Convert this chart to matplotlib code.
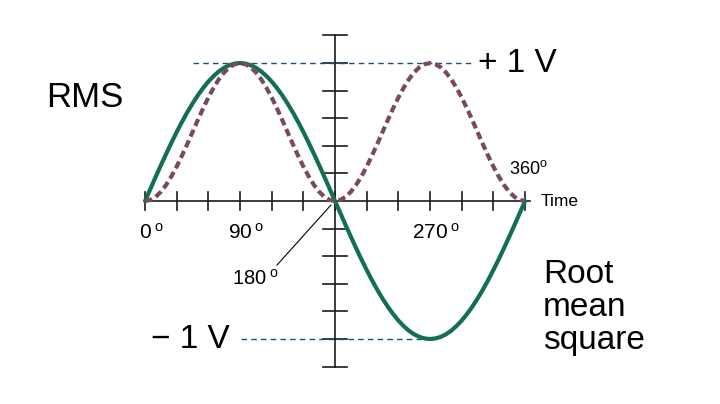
import matplotlib
matplotlib.use("Agg")
import matplotlib.pyplot as plt

# phase angle in degrees, read every 5 degrees
angle = list(range(0, 365, 5))
# green solid wave (volts)
voltage = [0, 0.087, 0.174, 0.259, 0.342, 0.423, 0.500, 0.574, 0.643, 0.707, 0.766, 0.819, 0.866, 0.906, 0.940, 0.966, 0.985, 0.996,
           1.0, 0.996, 0.985, 0.966, 0.940, 0.906, 0.866, 0.819, 0.766, 0.707, 0.643, 0.574, 0.500, 0.423, 0.342, 0.259, 0.174, 0.087,
           0, -0.087, -0.174, -0.259, -0.342, -0.423, -0.500, -0.574, -0.643, -0.707, -0.766, -0.819, -0.866, -0.906, -0.940, -0.966, -0.985, -0.996,
           -1.0, -0.996, -0.985, -0.966, -0.940, -0.906, -0.866, -0.819, -0.766, -0.707, -0.643, -0.574, -0.500, -0.423, -0.342, -0.259, -0.174, -0.087, 0]
# dashed squared wave
squared = [0, 0.008, 0.030, 0.067, 0.117, 0.179, 0.250, 0.329, 0.413, 0.500, 0.587, 0.671, 0.750, 0.821, 0.883, 0.933, 0.970, 0.992,
           1.0, 0.992, 0.970, 0.933, 0.883, 0.821, 0.750, 0.671, 0.587, 0.500, 0.413, 0.329, 0.250, 0.179, 0.117, 0.067, 0.030, 0.008,
           0, 0.008, 0.030, 0.067, 0.117, 0.179, 0.250, 0.329, 0.413, 0.500, 0.587, 0.671, 0.750, 0.821, 0.883, 0.933, 0.970, 0.992,
           1.0, 0.992, 0.970, 0.933, 0.883, 0.821, 0.750, 0.671, 0.587, 0.500, 0.413, 0.329, 0.250, 0.179, 0.117, 0.067, 0.030, 0.008, 0]

x_ticks = [0, 30, 60, 90, 120, 150, 180, 210, 240, 270, 300, 330, 360]
y_ticks = [-1.2, -1.0, -0.8, -0.6, -0.4, -0.2, 0.2, 0.4, 0.6, 0.8, 1.0, 1.2]
angle_labels = [(6, "0"), (96, "90"), (276, "270")]

GREEN = "#12704a"
MAUVE = "#7a4a5c"
BLUE = "#1f4e79"
plt.rcParams['font.family'] = ['Liberation Sans', 'DejaVu Sans']


def deg(s):
    return r"$\mathregular{" + s + r"\,^o}$"


fig = plt.figure(figsize=(7.2, 4.04), dpi=100)
ax = fig.add_axes([0, 0, 1, 1])
ax.set_xlim(-137.4, 544.7)
ax.set_ylim(-1.471, 1.457)
ax.axis('off')

# axes drawn by hand, crossing at 180 degrees
ax.plot([0, 365], [0, 0], color='#1a1a1a', lw=1.2)
ax.plot([180, 180], [-1.2, 1.2], color='#1a1a1a', lw=1.2)
for t in x_ticks:
    ax.plot([t, t], [-0.065, 0.065], color='#1a1a1a', lw=1.2)
for t in y_ticks:
    ax.plot([169, 191], [t, t], color='#1a1a1a', lw=1.2)

# peak reference lines
ax.plot([45, 311], [1, 1], color=BLUE, lw=1.0, dashes=(4, 3))
ax.plot([91, 270], [-1, -1], color=BLUE, lw=1.0, dashes=(4, 3))

ax.plot(angle, voltage, color=GREEN, lw=3.0, solid_capstyle='round', zorder=3)
ax.plot(angle, squared, color=MAUVE, lw=3.0, dashes=(1.8, 1.0), zorder=4)

for a, s in angle_labels:
    ax.text(a, -0.23, deg(s), fontsize=15, ha='center', va='center')
ax.text(345, 0.235, r"$\mathregular{360^o}$", fontsize=13, ha='left', va='center')
ax.text(82, -0.56, deg("180"), fontsize=14.5, ha='left', va='center')
ax.plot([125, 176], [-0.464, -0.03], color='black', lw=0.8)
ax.text(375, 0, "Time", fontsize=12.5, ha='left', va='center')

ax.text(315.5, 1.0, "+ 1 V", fontsize=24, ha='left', va='center')
ax.text(80, -1.0, "\u2212 1 V", fontsize=24, ha='right', va='center')
ax.text(-93.5, 0.75, "RMS", fontsize=25, ha='left', va='center')
ax.text(377, -0.77, "Root\nmean\nsquare", fontsize=24, ha='left', va='center', linespacing=1.08)

fig.savefig("out.png", dpi=100)
